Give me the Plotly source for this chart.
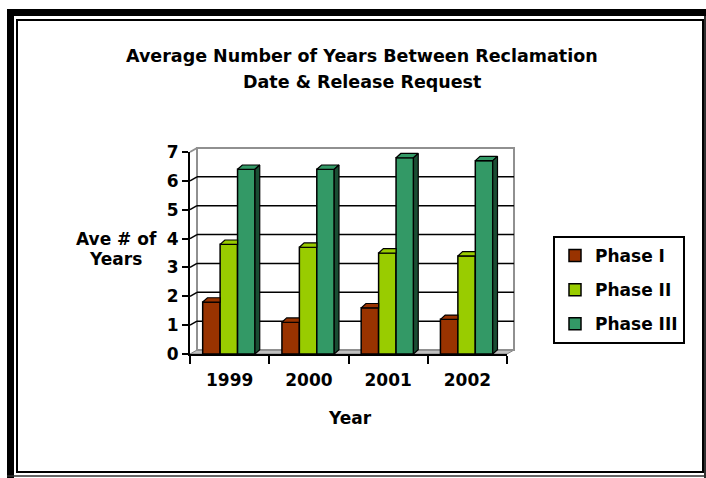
import plotly.graph_objects as go

# ---------------- data ----------------
years = ["1999", "2000", "2001", "2002"]
phase_names = ["Phase I", "Phase II", "Phase III"]
phase1 = [1.8, 1.1, 1.6, 1.2]
phase2 = [3.8, 3.7, 3.5, 3.4]
phase3 = [6.4, 6.4, 6.8, 6.7]
y_ticks = [0, 1, 2, 3, 4, 5, 6, 7]

title_line1 = "Average Number of Years Between Reclamation"
title_line2 = "Date & Release Request"
y_title = ["Ave # of", "Years"]
x_title = "Year"

# ---------------- style ----------------
front_colors = ["#993300", "#99CC00", "#339966"]
side_colors = ["#4d1a00", "#4d6600", "#1a4d33"]
FONT = "DejaVu Sans"

W, H = 706, 478
L, R, T, B = 190, 507, 152, 354          # plot area in pixels
YMAX = 7
NCAT = len(years)

def px(x):
    return (x - L) / (R - L)

def py(y):
    return (B - y) / (B - T)

bar_w = 0.22
start = -1.5 * bar_w - 0.01
dx, dy = 0.06, 0.15                      # bar depth in data units
wall_dx, wall_dy = 7 / (R - L), 4 / (B - T)   # wall depth in paper units

series = [phase1, phase2, phase3]
x_idx = list(range(NCAT))

fig = go.Figure()

# front faces (real bars)
for i, vals in enumerate(series):
    fig.add_trace(go.Bar(
        x=x_idx, y=vals, name=phase_names[i],
        width=bar_w, offset=start + i * bar_w,
        marker=dict(color=front_colors[i], line=dict(color="black", width=1.5)),
        legendgroup=phase_names[i],
        hoverinfo="skip",
    ))

# top and side faces computed from the same values
for i, vals in enumerate(series):
    tx, ty, sx, sy = [], [], [], []
    for j, v in enumerate(vals):
        xl = j + start + i * bar_w
        xr = xl + bar_w
        nxt = series[i + 1][j] if i + 1 < len(series) else None
        if nxt is not None and nxt >= v:
            tx += [xl, xr, xr, xl + dx, xl, None]
            ty += [v, v, v + dy, v + dy, v, None]
        else:
            tx += [xl, xr, xr + dx, xl + dx, xl, None]
            ty += [v, v, v + dy, v + dy, v, None]
            sx += [xr, xr + dx, xr + dx, xr, xr, None]
            sy += [0, dy, v + dy, v, 0, None]
    fig.add_trace(go.Scatter(x=tx, y=ty, mode="lines", fill="toself",
                             fillcolor=front_colors[i],
                             line=dict(color="black", width=1.2),
                             showlegend=False, hoverinfo="skip"))
    if sx:
        fig.add_trace(go.Scatter(x=sx, y=sy, mode="lines", fill="toself",
                                 fillcolor=side_colors[i],
                                 line=dict(color="black", width=1.2),
                                 showlegend=False, hoverinfo="skip"))

shapes = []
# floor
shapes.append(dict(type="path", xref="paper", yref="paper", layer="below",
                   path=f"M {0},{0} L {1},{0} L {1+wall_dx},{wall_dy} L {wall_dx},{wall_dy} Z",
                   fillcolor="#c0c0c0", line=dict(color="#808080", width=1)))
# back wall
shapes.append(dict(type="rect", xref="paper", yref="paper", layer="below",
                   x0=wall_dx, y0=wall_dy, x1=1 + wall_dx, y1=1 + wall_dy,
                   fillcolor="rgba(0,0,0,0)", line=dict(color="#909090", width=2)))
# left wall top edge
shapes.append(dict(type="line", xref="paper", yref="paper", layer="below",
                   x0=0, y0=1, x1=wall_dx, y1=1 + wall_dy,
                   line=dict(color="#909090", width=2)))
# gridlines on back wall + slanted left-wall lines
for v in y_ticks[1:-1]:
    yv = v / YMAX
    shapes.append(dict(type="line", xref="paper", yref="paper", layer="below",
                       x0=wall_dx, y0=yv + wall_dy, x1=1 + wall_dx, y1=yv + wall_dy,
                       line=dict(color="black", width=1.5)))
    shapes.append(dict(type="line", xref="paper", yref="paper", layer="below",
                       x0=0, y0=yv, x1=wall_dx, y1=yv + wall_dy,
                       line=dict(color="black", width=1.5)))

# outer frame (pixel geometry)
def rect_px(x0, y0, x1, y1, **kw):
    return dict(type="rect", xref="paper", yref="paper", layer="above",
                x0=px(x0), x1=px(x1), y0=py(y1), y1=py(y0), **kw)

shapes.append(rect_px(7, 9, 14, 478, fillcolor="black", line=dict(width=0)))
shapes.append(rect_px(7, 9, 706, 16, fillcolor="black", line=dict(width=0)))
shapes.append(rect_px(17, 20, 703, 472, fillcolor="rgba(0,0,0,0)",
                      line=dict(color="black", width=2)))
shapes.append(dict(type="line", xref="paper", yref="paper", layer="above",
                   x0=px(7), x1=px(706), y0=py(476), y1=py(476),
                   line=dict(color="#303030", width=1.5)))
shapes.append(dict(type="line", xref="paper", yref="paper", layer="above",
                   x0=px(705), x1=px(705), y0=py(16), y1=py(478),
                   line=dict(color="#303030", width=2)))

def ann(text, x, y, size=17):
    return dict(text=text, xref="paper", yref="paper", x=px(x), y=py(y),
                xanchor="center", yanchor="middle", showarrow=False,
                font=dict(family=FONT, size=size, color="black", weight="bold"))

annotations = [
    ann(title_line1, 361.5, 56, 17.5),
    ann(title_line2, 361.5, 82.5, 17.5),
    ann(y_title[0], 116, 238.5),
    ann(y_title[1], 115.5, 258.5),
    ann(x_title, 349.5, 417.5),
]

fig.update_layout(
    width=W, height=H,
    margin=dict(l=L, r=W - R, t=T, b=H - B, pad=0),
    paper_bgcolor="white", plot_bgcolor="rgba(0,0,0,0)",
    barmode="overlay",
    font=dict(family=FONT, size=17, color="black", weight="bold"),
    shapes=shapes, annotations=annotations,
    hovermode=False,
    showlegend=True,
    legend=dict(x=px(553), y=py(236), xanchor="left", yanchor="top",
                bordercolor="black", borderwidth=2, bgcolor="white",
                font=dict(family=FONT, size=17, color="black", weight="bold"),
                tracegroupgap=9, traceorder="grouped"),
    xaxis=dict(range=[-0.5, NCAT - 0.5], tickmode="array", tickvals=x_idx,
               ticktext=years, ticks="", showline=True, linecolor="black",
               linewidth=2, showgrid=False, zeroline=False, fixedrange=True,
               ticklabelstandoff=10,
               tickfont=dict(family=FONT, size=17, weight="bold"),
               minor=dict(tickmode="linear", tick0=-0.5, dtick=1, ticks="outside",
                          ticklen=8, tickwidth=1.5, tickcolor="black", showgrid=False)),
    yaxis=dict(range=[0, YMAX], tickmode="array", tickvals=y_ticks,
               ticks="outside", ticklen=6, tickwidth=1.5, tickcolor="black",
               showline=True, linecolor="black", linewidth=2, showgrid=False,
               zeroline=False, fixedrange=True,
               tickfont=dict(family=FONT, size=17, weight="bold")),
)

fig.write_html("out.html", config={"displayModeBar": False},
               post_script="document.body.style.margin='0';document.body.style.overflow='hidden';")
